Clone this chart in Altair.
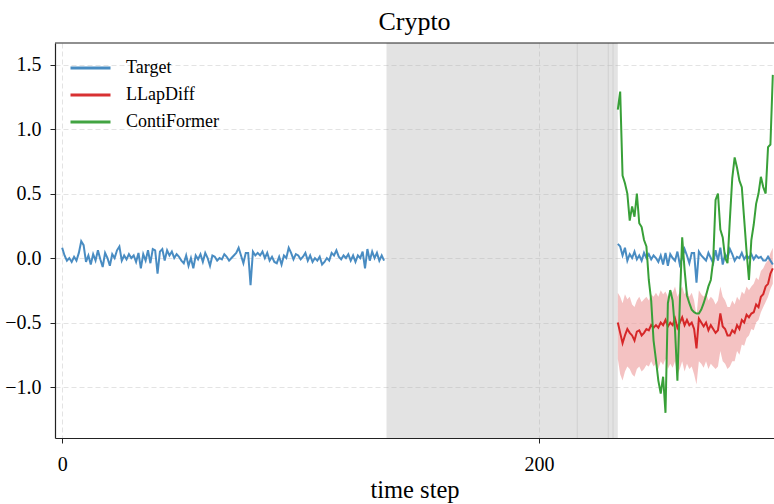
import altair as alt
import pandas as pd

# ---------------- data ----------------
target_hist = [0.08, 0.02, -0.02, 0.0, -0.03, 0.01, -0.02, 0.04, 0.13, 0.10,
               -0.03, 0.02, -0.05, 0.03, -0.02, 0.06, -0.01, -0.07, 0.04, 0.0,
               -0.06, 0.03, 0.0, 0.06, 0.09, -0.02, 0.02, -0.01, 0.03, 0.0,
               0.02, -0.03, 0.04, -0.08, 0.03, -0.02, 0.06, -0.04, 0.07, 0.06,
               -0.12, 0.05, 0.07, -0.02, 0.06, 0.02, 0.05, 0.0, 0.03, 0.01,
               -0.02, -0.04, 0.02, -0.06, 0.0, -0.08, 0.02, -0.01, 0.03, -0.03,
               0.04, 0.0, -0.06, 0.02, 0.01, -0.02, 0.0, -0.01, 0.03, 0.01,
               -0.02, 0.0, 0.02, 0.04, 0.08, 0.02, -0.04, 0.04, 0.04, -0.21,
               0.05, 0.02, 0.04, 0.02, 0.05, 0.0, 0.04, -0.02, 0.01, -0.03,
               -0.04, 0.01, -0.05, 0.02, 0.0, 0.08, 0.04, -0.01, 0.03, 0.02,
               -0.01, 0.01, 0.04, -0.02, 0.02, -0.03, 0.0, -0.02, 0.01, -0.05,
               -0.03, 0.0, -0.02, 0.04, 0.02, 0.06, 0.01, -0.01, 0.02, 0.0,
               0.03, -0.02, 0.02, -0.03, 0.02, 0.0, 0.05, -0.08, 0.07, -0.02,
               0.05, 0.0, 0.04, -0.02, 0.02, -0.02]

target_future = [0.11, 0.09, 0.02, 0.08, -0.02, 0.03, 0.0, 0.05, -0.01, 0.02,
                 -0.02, 0.04, 0.0, 0.03, -0.01, 0.02, 0.0, -0.03, 0.02, -0.05,
                 0.04, -0.06, 0.03, 0.0, -0.02, 0.05, -0.05, 0.0, 0.07, 0.02,
                 -0.04, 0.04, 0.04, -0.19, 0.05, 0.02, 0.0, -0.02, 0.04, 0.0,
                 -0.04, 0.06, -0.02, 0.08, -0.05, 0.03, 0.0, 0.07, 0.03, -0.02,
                 0.01, 0.0, 0.04, -0.01, 0.02, 0.0, 0.03, -0.01, 0.02, 0.0,
                 0.01, -0.02, -0.02, 0.01, -0.02, -0.05]

llapdiff = [-0.50, -0.58, -0.66, -0.60, -0.55, -0.58, -0.60, -0.64, -0.57, -0.56,
            -0.60, -0.58, -0.55, -0.56, -0.52, -0.54, -0.52, -0.54, -0.50, -0.52,
            -0.48, -0.53, -0.50, -0.52, -0.47, -0.54, -0.50, -0.46, -0.52, -0.48,
            -0.52, -0.50, -0.55, -0.70, -0.47, -0.50, -0.53, -0.50, -0.56, -0.52,
            -0.55, -0.58, -0.56, -0.43, -0.53, -0.55, -0.60, -0.60, -0.56, -0.58,
            -0.52, -0.55, -0.48, -0.50, -0.44, -0.46, -0.43, -0.42, -0.36, -0.38,
            -0.30, -0.28, -0.22, -0.20, -0.12, -0.08]

llapdiff_upper = [-0.27, -0.30, -0.35, -0.28, -0.32, -0.30, -0.36, -0.38, -0.33, -0.30,
                  -0.34, -0.32, -0.30, -0.33, -0.28, -0.30, -0.27, -0.30, -0.25, -0.28,
                  -0.26, -0.30, -0.24, -0.27, -0.22, -0.30, -0.26, -0.22, -0.28, -0.25,
                  -0.30, -0.27, -0.33, -0.45, -0.25, -0.28, -0.30, -0.27, -0.33, -0.30,
                  -0.32, -0.36, -0.33, -0.22, -0.30, -0.33, -0.38, -0.38, -0.33, -0.36,
                  -0.30, -0.33, -0.26, -0.28, -0.22, -0.25, -0.22, -0.20, -0.15, -0.17,
                  -0.10, -0.08, -0.04, -0.02, 0.04, 0.08]

llapdiff_lower = [-0.78, -0.90, -0.95, -0.88, -0.84, -0.86, -0.90, -0.92, -0.86, -0.84,
                  -0.88, -0.86, -0.83, -0.84, -0.80, -0.84, -0.82, -0.86, -0.80, -0.83,
                  -0.78, -0.86, -0.82, -0.85, -0.80, -0.90, -0.86, -0.80, -0.88, -0.82,
                  -0.86, -0.84, -0.90, -0.98, -0.80, -0.82, -0.85, -0.80, -0.86, -0.82,
                  -0.84, -0.86, -0.84, -0.72, -0.80, -0.82, -0.86, -0.84, -0.80, -0.80,
                  -0.72, -0.75, -0.67, -0.68, -0.62, -0.60, -0.55, -0.56, -0.50, -0.48,
                  -0.42, -0.38, -0.34, -0.30, -0.24, -0.20]

contiformer = [1.15, 1.29, 0.64, 0.58, 0.50, 0.29, 0.40, 0.32, 0.50, 0.27,
               0.24, 0.14, 0.09, -0.17, -0.33, -0.64, -0.79, -0.95, -1.05, -0.92,
               -1.20, -0.35, -0.25, -0.33, -0.56, -0.95, -0.35, 0.16, -0.09, -0.29,
               -0.35, -0.40, -0.42, -0.43, -0.43, -0.40, -0.35, -0.29, -0.22, -0.17,
               -0.02, 0.45, 0.50, 0.22, 0.16, 0.00, -0.04, 0.30, 0.62, 0.78,
               0.70, 0.60, 0.55, 0.30, 0.05, -0.17, 0.14, 0.26, 0.42, 0.50,
               0.63, 0.55, 0.50, 0.86, 0.88, 1.42]

hist_start = 0
future_start = 233
span_start, span_end = 136, 233
span_edges = [216, 229, 231]

series_names = ["Target", "LLapDiff", "ContiFormer"]
series_colors = ["#3f86bf", "#d62728", "#38a038"]

x_domain = [-3, 298.5]
y_domain = [-1.395, 1.667]
y_ticks = [-1.0, -0.5, 0.0, 0.5, 1.0, 1.5]
x_ticks = [0, 200]

# ---------------- tables ----------------
hist_t = list(range(hist_start, hist_start + len(target_hist)))
fut_t = list(range(future_start, future_start + len(target_future)))

target_df = pd.DataFrame({
    "t": hist_t + fut_t,
    "v": target_hist + target_future,
    "seg": ["a"] * len(hist_t) + ["b"] * len(fut_t),
    "series": "Target",
})
llap_df = pd.DataFrame({"t": fut_t, "v": llapdiff, "lo": llapdiff_lower,
                        "hi": llapdiff_upper, "series": "LLapDiff"})
conti_df = pd.DataFrame({"t": fut_t, "v": contiformer, "series": "ContiFormer"})
span_df = pd.DataFrame({"s": [span_start], "e": [span_end]})
edge_df = pd.DataFrame({"t": span_edges})

W, H = 719, 395
FONT = "Liberation Serif"

xs = alt.Scale(domain=x_domain, nice=False, zero=False)
ys = alt.Scale(domain=y_domain, nice=False, zero=False)
color = alt.Color(
    "series:N",
    scale=alt.Scale(domain=series_names, range=series_colors),
    legend=alt.Legend(
        title=None, orient="none", legendX=14, legendY=16,
        symbolType="stroke", symbolSize=1600, symbolStrokeWidth=3,
        labelFont=FONT, labelFontSize=18, labelColor="black",
        labelOffset=14, clipHeight=18, rowPadding=9, padding=0,
    ),
    sort=series_names,
)

x_enc = alt.X("t:Q", scale=xs, axis=alt.Axis(
    values=x_ticks, title="time step", format="d"))
y_enc = alt.Y("v:Q", scale=ys, axis=alt.Axis(
    values=y_ticks, format=".1f", title=None))

span = alt.Chart(span_df).mark_rect(color="#a8a8a8", opacity=0.32).encode(
    x=alt.X("s:Q", scale=xs, axis=alt.Axis(values=x_ticks, title="time step", format="d")),
    x2="e:Q",
    y=alt.value(0), y2=alt.value(H),
)
edges = alt.Chart(edge_df).mark_rule(color="#c4c4c4", strokeWidth=1, opacity=0.6).encode(
    x=alt.X("t:Q", scale=xs), y=alt.value(0), y2=alt.value(H)
)
band = alt.Chart(llap_df).mark_area(color="#ec9a9a", opacity=0.6).encode(
    x=alt.X("t:Q", scale=xs), y=alt.Y("lo:Q", scale=ys), y2="hi:Q"
)
target_line = alt.Chart(target_df).mark_line(strokeWidth=2, opacity=0.95).encode(
    x=x_enc, y=y_enc, color=color, detail="seg:N"
)
llap_line = alt.Chart(llap_df).mark_line(strokeWidth=2).encode(
    x=alt.X("t:Q", scale=xs), y=alt.Y("v:Q", scale=ys), color=color
)
conti_line = alt.Chart(conti_df).mark_line(strokeWidth=2).encode(
    x=alt.X("t:Q", scale=xs), y=alt.Y("v:Q", scale=ys), color=color
)
top_spine = alt.Chart(span_df).mark_rule(color="#222222", strokeWidth=1.2).encode(
    x=alt.value(0), x2=alt.value(W), y=alt.value(0)
)

chart = alt.layer(
    span, edges, band, target_line, llap_line, conti_line, top_spine
).properties(
    width=W, height=H,
    title=alt.TitleParams("Crypto", font=FONT, fontSize=26, fontWeight="normal",
                          color="black", anchor="middle", offset=7),
    autosize=alt.AutoSizeParams(type="none"),
    padding={"left": 55, "top": 43, "right": 0, "bottom": 66},
).configure_view(stroke=None).configure_axis(
    labelFont=FONT, labelFontSize=20, labelColor="black",
    titleFont=FONT, titleFontSize=24.5, titleColor="black", titleFontWeight="normal",
    domainColor="#222222", domainWidth=1.2, tickColor="#222222", tickSize=5,
    tickWidth=1, grid=True, gridColor="#dcdcdc", gridDash=[5, 3], gridWidth=0.8,
).configure_axisX(labelPadding=11, titlePadding=4).configure_axisY(labelPadding=9)

chart.save("out.html", embed_options={"renderer": "svg", "actions": False})
